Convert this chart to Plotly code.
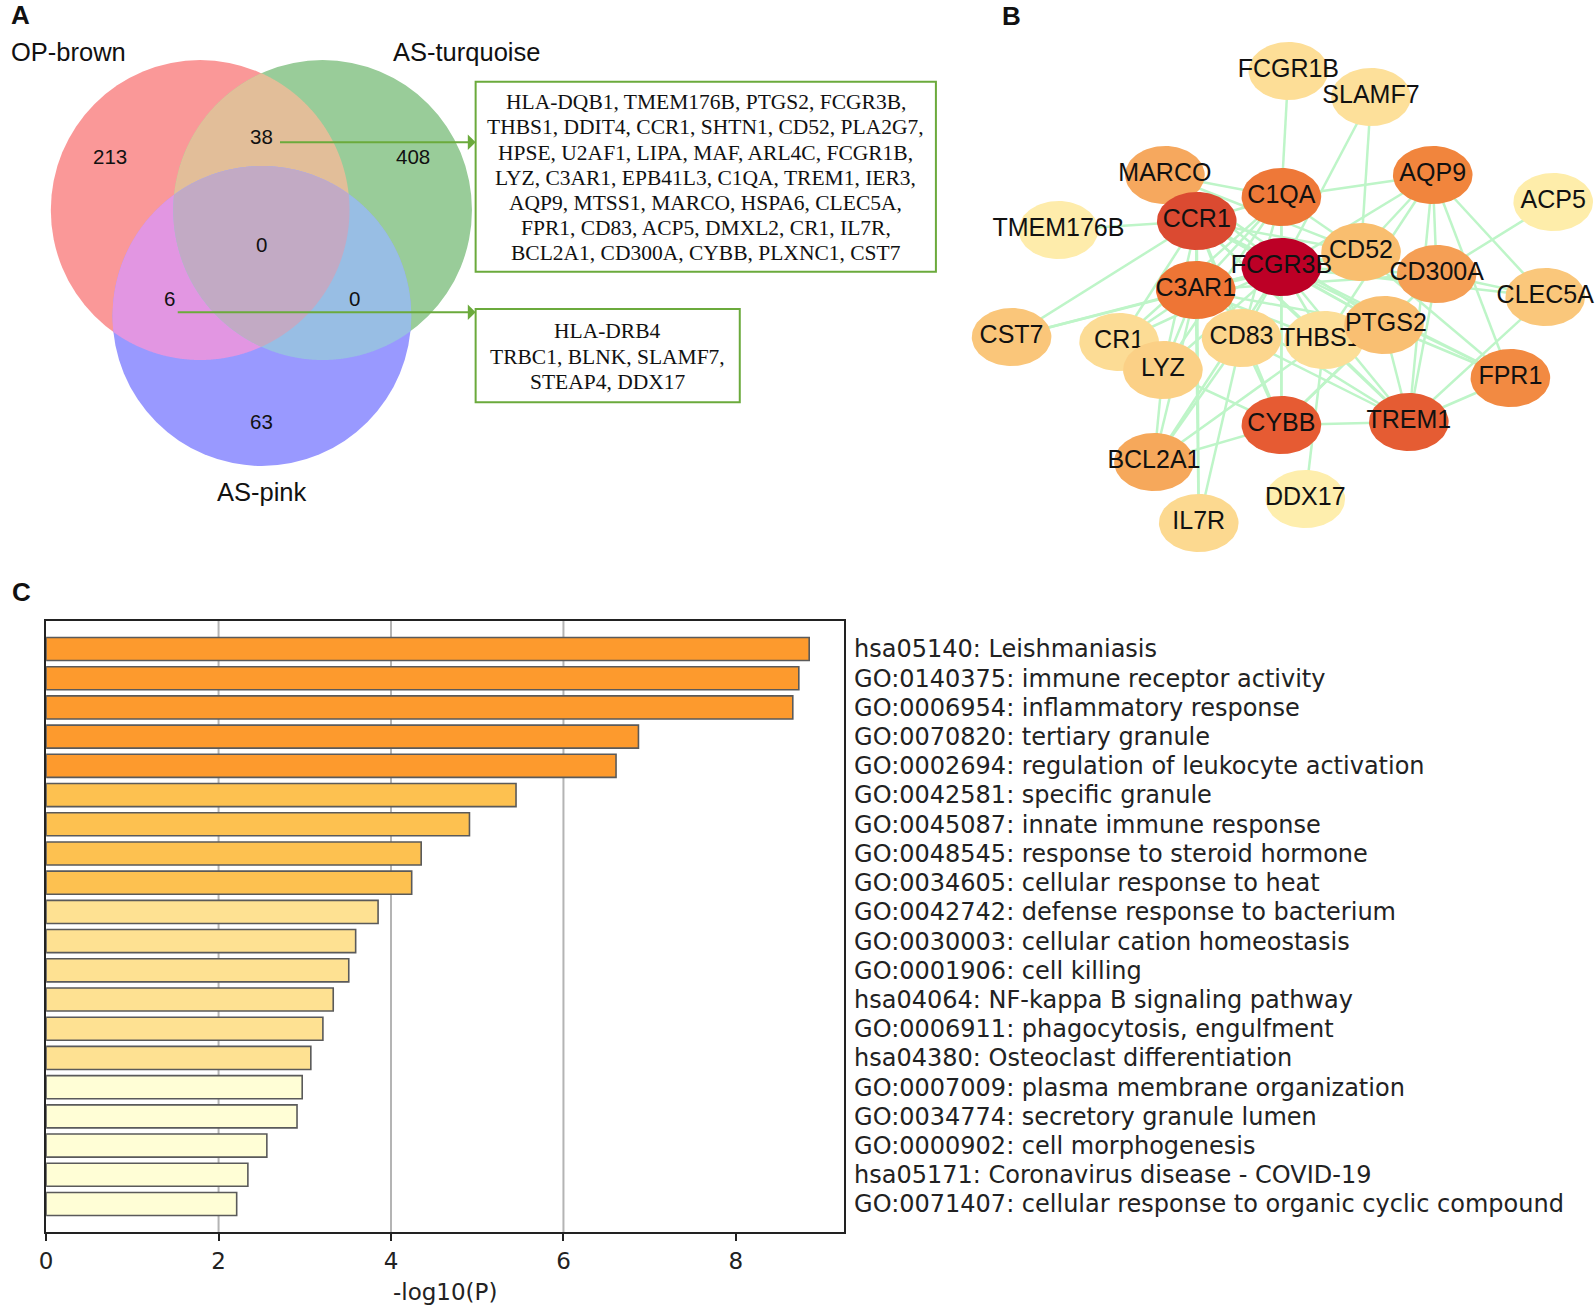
import numpy as np
import plotly.graph_objects as go

W, H = 1595, 1306

# ======================= DATA =======================
# ---- Panel A: Venn diagram ----
set_names = ["OP-brown", "AS-turquoise", "AS-pink"]
region_counts = [213, 38, 408, 0, 6, 0, 63]   # OP only, OP&turq, turq only, all, OP&pink, turq&pink, pink only
genes_op_turquoise = ["HLA-DQB1", "TMEM176B", "PTGS2", "FCGR3B",
                      "THBS1", "DDIT4", "CCR1", "SHTN1", "CD52", "PLA2G7",
                      "HPSE", "U2AF1", "LIPA", "MAF", "ARL4C", "FCGR1B",
                      "LYZ", "C3AR1", "EPB41L3", "C1QA", "TREM1", "IER3",
                      "AQP9", "MTSS1", "MARCO", "HSPA6", "CLEC5A",
                      "FPR1", "CD83", "ACP5", "DMXL2", "CR1", "IL7R",
                      "BCL2A1", "CD300A", "CYBB", "PLXNC1", "CST7"]
genes_op_pink = ["HLA-DRB4", "TRBC1", "BLNK", "SLAMF7", "STEAP4", "DDX17"]

# ---- Panel B: PPI network ----
ppi_nodes = ["FCGR1B", "SLAMF7", "MARCO", "C1QA", "AQP9", "ACP5", "TMEM176B", "CCR1",
             "FCGR3B", "CD52", "CD300A", "CLEC5A", "C3AR1", "CST7", "CR1", "LYZ", "CD83",
             "THBS1", "PTGS2", "FPR1", "CYBB", "TREM1", "BCL2A1", "DDX17", "IL7R"]
ppi_edges = [
    ("FCGR1B", "C1QA"), ("SLAMF7", "FCGR3B"), ("SLAMF7", "CD52"),
    ("MARCO", "C1QA"), ("MARCO", "FCGR3B"), ("MARCO", "CD52"), ("MARCO", "CCR1"), ("MARCO", "PTGS2"),
    ("TMEM176B", "CCR1"),
    ("C1QA", "AQP9"), ("C1QA", "CCR1"), ("C1QA", "FCGR3B"), ("C1QA", "C3AR1"), ("C1QA", "CD52"),
    ("C1QA", "CD83"), ("C1QA", "LYZ"), ("C1QA", "CR1"), ("C1QA", "CYBB"),
    ("AQP9", "CD52"), ("AQP9", "CD300A"), ("AQP9", "TREM1"), ("AQP9", "FPR1"), ("AQP9", "CLEC5A"),
    ("AQP9", "THBS1"), ("AQP9", "FCGR3B"),
    ("ACP5", "CD300A"),
    ("CD300A", "CLEC5A"), ("CD300A", "TREM1"), ("CD300A", "FCGR3B"), ("CD300A", "CYBB"),
    ("CLEC5A", "TREM1"), ("CLEC5A", "FCGR3B"),
    ("FPR1", "TREM1"), ("FPR1", "PTGS2"), ("FPR1", "CD52"), ("FPR1", "FCGR3B"), ("FPR1", "CCR1"),
    ("CST7", "C3AR1"), ("CST7", "CCR1"), ("CST7", "FCGR3B"),
    ("CR1", "C3AR1"), ("CR1", "FCGR3B"), ("CR1", "CCR1"),
    ("LYZ", "BCL2A1"), ("LYZ", "CYBB"), ("LYZ", "CCR1"), ("LYZ", "C3AR1"), ("LYZ", "FCGR3B"),
    ("CD83", "CCR1"), ("CD83", "FCGR3B"), ("CD83", "BCL2A1"), ("CD83", "TREM1"), ("CD83", "IL7R"),
    ("CD83", "CYBB"),
    ("THBS1", "DDX17"), ("THBS1", "FCGR3B"), ("THBS1", "CCR1"), ("THBS1", "BCL2A1"),
    ("THBS1", "TREM1"), ("THBS1", "C3AR1"),
    ("PTGS2", "TREM1"), ("PTGS2", "FCGR3B"), ("PTGS2", "CCR1"), ("PTGS2", "CYBB"), ("PTGS2", "C3AR1"),
    ("CYBB", "TREM1"), ("CYBB", "BCL2A1"), ("CYBB", "FCGR3B"), ("CYBB", "CCR1"),
    ("TREM1", "FCGR3B"), ("TREM1", "CCR1"), ("TREM1", "C3AR1"),
    ("BCL2A1", "FCGR3B"), ("BCL2A1", "C3AR1"),
    ("IL7R", "C3AR1"), ("IL7R", "CCR1"),
    ("FCGR3B", "CCR1"), ("FCGR3B", "C3AR1"), ("FCGR3B", "CD52"),
    ("CCR1", "C3AR1"), ("CCR1", "CD52"),
    ("C3AR1", "CD52"), ("C3AR1", "CD300A"),
]

# ---- Panel C: enrichment ----
terms = ["hsa05140: Leishmaniasis",
         "GO:0140375: immune receptor activity",
         "GO:0006954: inflammatory response",
         "GO:0070820: tertiary granule",
         "GO:0002694: regulation of leukocyte activation",
         "GO:0042581: specific granule",
         "GO:0045087: innate immune response",
         "GO:0048545: response to steroid hormone",
         "GO:0034605: cellular response to heat",
         "GO:0042742: defense response to bacterium",
         "GO:0030003: cellular cation homeostasis",
         "GO:0001906: cell killing",
         "hsa04064: NF-kappa B signaling pathway",
         "GO:0006911: phagocytosis, engulfment",
         "hsa04380: Osteoclast differentiation",
         "GO:0007009: plasma membrane organization",
         "GO:0034774: secretory granule lumen",
         "GO:0000902: cell morphogenesis",
         "hsa05171: Coronavirus disease - COVID-19",
         "GO:0071407: cellular response to organic cyclic compound"]
neg_log10_p = [8.85, 8.73, 8.66, 6.87, 6.61, 5.45, 4.91, 4.35, 4.24, 3.85,
               3.59, 3.51, 3.33, 3.21, 3.07, 2.97, 2.91, 2.56, 2.34, 2.21]
bar_tier = [0, 0, 0, 0, 0, 1, 1, 1, 1, 2, 2, 2, 2, 2, 2, 3, 3, 3, 3, 3]
x_ticks = [0, 2, 4, 6, 8]

# ======================= LAYOUT / STYLE =======================
SANS = "Liberation Sans, Arial, sans-serif"
SERIF = "Liberation Serif, Times New Roman, serif"
DEJAVU = "DejaVu Sans, sans-serif"
GREEN_LINE = "#6BAA3C"

venn_centers = [(194, 210), (317, 210), (256, 316)]
venn_radius = 150
venn_only_colors = ["rgb(250,152,152)", "rgb(153,204,153)", "rgb(153,153,255)"]
venn_pair_colors = {(0, 1): "rgb(226,190,153)", (0, 2): "rgb(226,150,226)", (1, 2): "rgb(152,190,228)"}
venn_triple_color = "rgb(194,170,196)"
set_label_xy = [(62, 52), (462, 52), (256, 492)]
region_label_xy = [(103, 156), (256, 136), (408, 156), (256, 244), (163, 298), (349, 298), (256, 421)]
box1 = (470.7, 81.7, 933, 271.7)
box2 = (470.7, 309, 736, 402.3)
box1_line_sizes = [4, 6, 6, 6, 5, 6, 5]
box2_line_sizes = [1, 3, 2]
line_gap = 25.2
arrow1 = ((272.7, 142.3), (470.7, 142.3))
arrow2 = ((170, 312.3), (470.7, 312.3))

node_xy = {
    "FCGR1B": (1287, 71), "SLAMF7": (1370, 97), "MARCO": (1163, 175), "C1QA": (1280, 197),
    "AQP9": (1432, 175), "ACP5": (1553, 202), "TMEM176B": (1056, 230), "CCR1": (1195, 221),
    "FCGR3B": (1280, 267), "CD52": (1360, 252), "CD300A": (1436, 274), "CLEC5A": (1545, 297),
    "C3AR1": (1194, 290), "CST7": (1009, 337), "CR1": (1117, 342), "LYZ": (1161, 370),
    "CD83": (1240, 338), "THBS1": (1323, 340), "PTGS2": (1383, 325), "FPR1": (1510, 378),
    "CYBB": (1280, 425), "TREM1": (1408, 422), "BCL2A1": (1152, 462), "DDX17": (1304, 499),
    "IL7R": (1197, 523),
}
label_dx = {"THBS1": -4, "PTGS2": 2}
node_color = {
    "FCGR3B": "#BD0026", "CCR1": "#DB4A31", "TREM1": "#E55C33", "CYBB": "#E65B33",
    "C3AR1": "#EE7535", "C1QA": "#EE7838", "AQP9": "#F1853D", "FPR1": "#F28A42",
    "CD300A": "#F59F55", "MARCO": "#F6A85E", "BCL2A1": "#F6A85B", "CD52": "#F9BE6F",
    "PTGS2": "#F9BF72", "CLEC5A": "#FAC77B", "CST7": "#FAC67A", "LYZ": "#FBD086",
    "CD83": "#FCD68D", "IL7R": "#FCD990", "CR1": "#FCDC95", "THBS1": "#FCDE98",
    "FCGR1B": "#FDDE97", "SLAMF7": "#FDE09A", "TMEM176B": "#FEECAB", "ACP5": "#FEEDAA",
    "DDX17": "#FEEEAD",
}
draw_order = ["TMEM176B", "MARCO", "CCR1", "C1QA", "SLAMF7", "FCGR1B", "AQP9", "ACP5", "CD52",
              "CD300A", "FCGR3B", "CLEC5A", "C3AR1", "CST7", "CR1", "LYZ", "CD83", "THBS1",
              "PTGS2", "FPR1", "CYBB", "TREM1", "BCL2A1", "DDX17", "IL7R"]
node_rx, node_ry = 40, 29
edge_color = "#BEF5C8"

tier_colors = ["#FD9A2D", "#FDC150", "#FEE192", "#FFFED6"]

# bar chart frame (pixels)
bx0, bx1 = 39.3, 841.0
by_top, by_bot = 621.0, 1232.0
px_per_unit = 86.6
bar_pitch = 29.21

# ======================= FIGURE =======================
fig = go.Figure()
shapes = []
annotations = []


def canvas_text(x, y, text, size, family=SANS, color="#111", bold=False):
    t = f"<b>{text}</b>" if bold else text
    annotations.append(dict(x=x, y=y, xref="x2", yref="y2", text=t, showarrow=False,
                            xanchor="center", yanchor="middle",
                            font=dict(family=family, size=size, color=color)))


# ---------- Panel A ----------
def circle_boundary(c, n=1440):
    t = np.linspace(0, 2 * np.pi, n, endpoint=False)
    return c[0] + venn_radius * np.cos(t), c[1] + venn_radius * np.sin(t)


def region_path(idx):
    xs, ys = [], []
    for i in idx:
        bx, by = circle_boundary(venn_centers[i])
        keep = np.ones_like(bx, dtype=bool)
        for j in idx:
            if j == i:
                continue
            cx, cy = venn_centers[j]
            keep &= (bx - cx) ** 2 + (by - cy) ** 2 <= venn_radius ** 2 + 1e-6
        xs.append(bx[keep]); ys.append(by[keep])
    xs = np.concatenate(xs); ys = np.concatenate(ys)
    mx, my = xs.mean(), ys.mean()
    order = np.argsort(np.arctan2(ys - my, xs - mx))
    xs, ys = xs[order], ys[order]
    return "M " + " L ".join(f"{a:.2f},{b:.2f}" for a, b in zip(xs, ys)) + " Z"


for i, c in enumerate(venn_centers):
    shapes.append(dict(type="circle", xref="x2", yref="y2",
                       x0=c[0] - venn_radius, x1=c[0] + venn_radius,
                       y0=c[1] - venn_radius, y1=c[1] + venn_radius,
                       fillcolor=venn_only_colors[i], line=dict(width=0), layer="below"))
for pair, col in venn_pair_colors.items():
    shapes.append(dict(type="path", xref="x2", yref="y2", path=region_path(list(pair)),
                       fillcolor=col, line=dict(width=0), layer="below"))
shapes.append(dict(type="path", xref="x2", yref="y2", path=region_path([0, 1, 2]),
                   fillcolor=venn_triple_color, line=dict(width=0), layer="below"))

for name, (x, y) in zip(set_names, set_label_xy):
    canvas_text(x, y, name, 25.5)
for cnt, (x, y) in zip(region_counts, region_label_xy):
    canvas_text(x, y, str(cnt), 20.5)


def gene_lines(genes, sizes):
    lines, k = [], 0
    for n_i, s in enumerate(sizes):
        chunk = genes[k:k + s]
        k += s
        lines.append(", ".join(chunk) + ("," if n_i < len(sizes) - 1 and s > 1 else ""))
    return lines


for box, genes, sizes in [(box1, genes_op_turquoise, box1_line_sizes),
                          (box2, genes_op_pink, box2_line_sizes)]:
    x0, y0, x1, y1 = box
    shapes.append(dict(type="rect", xref="x2", yref="y2", x0=x0, x1=x1, y0=y0, y1=y1,
                       line=dict(color=GREEN_LINE, width=2), fillcolor="rgba(0,0,0,0)"))
    lines = gene_lines(genes, sizes)
    cxm, cym = (x0 + x1) / 2, (y0 + y1) / 2 + 1
    for k, ln in enumerate(lines):
        canvas_text(cxm, cym + (k - (len(lines) - 1) / 2) * line_gap, ln, 21.5, family=SERIF)

for (sx, sy), (ex, ey) in [arrow1, arrow2]:
    annotations.append(dict(x=ex, y=ey, ax=sx, ay=sy, xref="x2", yref="y2", axref="x2", ayref="y2",
                            text="", showarrow=True, arrowhead=1, arrowsize=1.3, arrowwidth=2,
                            arrowcolor=GREEN_LINE, standoff=0, startstandoff=0))

# ---------- Panel B ----------
ex_, ey_ = [], []
for a, b in ppi_edges:
    ex_ += [node_xy[a][0], node_xy[b][0], None]
    ey_ += [node_xy[a][1], node_xy[b][1], None]
fig.add_trace(go.Scatter(x=ex_, y=ey_, mode="lines", line=dict(color=edge_color, width=2.5),
                         xaxis="x2", yaxis="y2", hoverinfo="skip", showlegend=False))

tt = np.linspace(0, 2 * np.pi, 90)
for name in draw_order:
    cx, cy = node_xy[name]
    fig.add_trace(go.Scatter(x=cx + node_rx * np.cos(tt), y=cy + node_ry * np.sin(tt),
                             mode="lines", fill="toself", fillcolor=node_color[name],
                             line=dict(width=0, color=node_color[name]),
                             xaxis="x2", yaxis="y2", hoverinfo="skip", showlegend=False))
    fig.add_trace(go.Scatter(x=[cx + label_dx.get(name, 0)], y=[cy], mode="text", text=[name],
                             textfont=dict(family=SANS, size=25, color="#111"),
                             textposition="middle center",
                             xaxis="x2", yaxis="y2", hoverinfo="skip", showlegend=False))

# ---------- Panel C ----------
fig.add_trace(go.Bar(x=neg_log10_p, y=terms, orientation="h",
                     marker=dict(color=[tier_colors[t] for t in bar_tier],
                                 line=dict(color="#5A5A5A", width=1.6)),
                     width=0.79, xaxis="x", yaxis="y", showlegend=False))

for gx in [2, 4, 6]:
    shapes.append(dict(type="line", xref="x", yref="y domain", x0=gx, x1=gx, y0=0, y1=1,
                       line=dict(color="#B4B4B4", width=2), layer="below"))

# panel letters
canvas_text(14, 15, "A", 26, bold=True)
canvas_text(1009, 16, "B", 26, bold=True)
canvas_text(15, 592, "C", 26, bold=True)

n = len(terms)
pad = (by_bot - by_top - (n - 1) * bar_pitch) / 2 / bar_pitch

fig.update_layout(
    width=W, height=H, margin=dict(l=0, r=0, t=0, b=0),
    paper_bgcolor="white", plot_bgcolor="rgba(0,0,0,0)",
    shapes=shapes, annotations=annotations,
    xaxis=dict(domain=[bx0 / W, bx1 / W], range=[0, (bx1 - bx0) / px_per_unit],
               tickvals=x_ticks, ticks="outside", ticklen=7, tickwidth=2, tickcolor="#222",
               showgrid=False, zeroline=False, showline=True, mirror=True,
               linecolor="#222", linewidth=2,
               tickfont=dict(family=DEJAVU, size=23, color="#222"),
               title=dict(text="-log10(P)", font=dict(family=DEJAVU, size=23, color="#222"),
                          standoff=11),
               anchor="y"),
    yaxis=dict(domain=[1 - by_bot / H, 1 - by_top / H], type="category",
               range=[n - 1 + pad, -pad], autorange=False, side="right",
               ticks="", showgrid=False, zeroline=False, showline=True, mirror=True,
               linecolor="#222", linewidth=2, ticklabelstandoff=3,
               tickfont=dict(family=DEJAVU, size=24, color="#222"), anchor="x"),
    xaxis2=dict(domain=[0, 1], range=[0, W], visible=False, anchor="y2", fixedrange=True),
    yaxis2=dict(domain=[0, 1], range=[H, 0], visible=False, anchor="x2", fixedrange=True),
)

fig.write_html("out.html", config={"displayModeBar": False},
               post_script="document.body.style.margin='0';document.body.style.overflow='hidden';")
